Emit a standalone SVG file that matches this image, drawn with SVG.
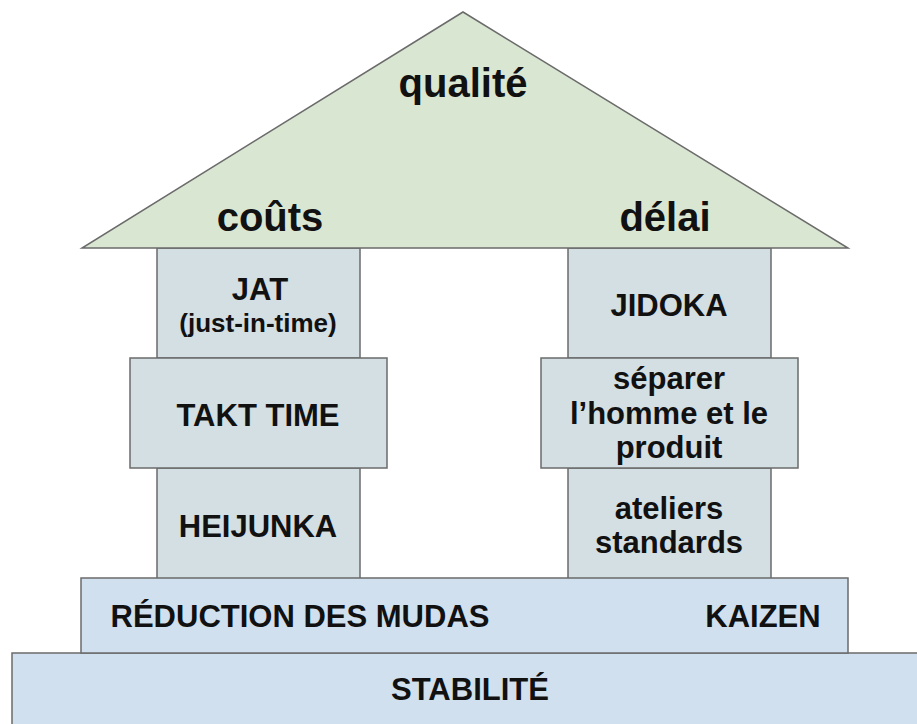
<svg xmlns="http://www.w3.org/2000/svg" width="917" height="724" viewBox="0 0 917 724">
<style>
.roof{fill:#d9e6d2;stroke:#6b6b6b;stroke-width:1.5}
.col{fill:#d3dfe3;stroke:#6b6b6b;stroke-width:1.5}
.base{fill:#d0e0ee;stroke:#6b6b6b;stroke-width:1.5}
text{font-family:"Liberation Sans",Arial,sans-serif;font-weight:bold;fill:#111;text-anchor:middle}
.h{font-size:40px}
.t{font-size:31px}
.s{font-size:26px}
</style>
<rect width="917" height="724" fill="#ffffff"/>
<g id="stabilite">
<rect class="base" x="12" y="653" width="915" height="80"/>
<text class="t" x="470" y="700">STABILITÉ</text>
</g>
<g id="jat">
<rect class="col" x="157" y="248" width="203" height="110"/>
<text class="t" x="260" y="300">JAT</text>
<text class="s" x="258" y="332">(just-in-time)</text>
</g>
<g id="heijunka">
<rect class="col" x="157" y="468" width="203" height="112"/>
<text class="t" x="258" y="537">HEIJUNKA</text>
</g>
<g id="takt">
<rect class="col" x="130" y="358" width="257" height="110"/>
<text class="t" x="258" y="426">TAKT TIME</text>
</g>
<g id="jidoka">
<rect class="col" x="568" y="248" width="203" height="110"/>
<text class="t" x="669" y="316">JIDOKA</text>
</g>
<g id="ateliers">
<rect class="col" x="568" y="468" width="203" height="112"/>
<text class="t" x="669" y="519">ateliers</text>
<text class="t" x="669" y="553">standards</text>
</g>
<g id="separer">
<rect class="col" x="541" y="358" width="257" height="110"/>
<text class="t" x="669" y="389">séparer</text>
<text class="t" x="669" y="424">l’homme et le</text>
<text class="t" x="669" y="458">produit</text>
</g>
<g id="mudas">
<rect class="base" x="81" y="578" width="767" height="75"/>
<text class="t" x="300" y="627">RÉDUCTION DES MUDAS</text>
<text class="t" x="763" y="627">KAIZEN</text>
</g>
<g id="toit">
<polygon class="roof" points="463,12 848,248 82,248"/>
<text class="h" x="463" y="97">qualité</text>
<text class="h" x="270" y="231">coûts</text>
<text class="h" x="665" y="231">délai</text>
</g>
<g id="connectors"></g>
</svg>
